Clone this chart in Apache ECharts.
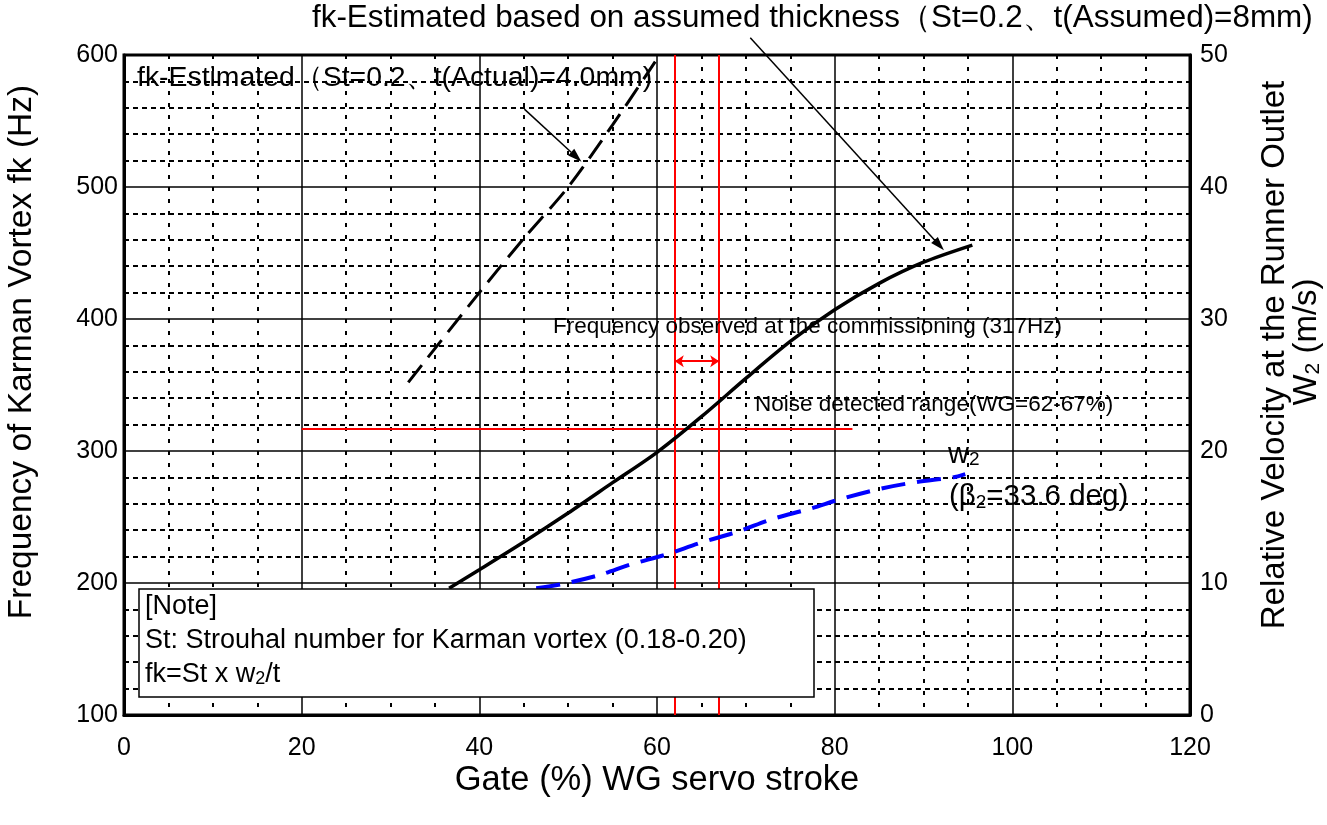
<!DOCTYPE html>
<html><head><meta charset="utf-8">
<script src="https://cdn.jsdelivr.net/npm/echarts@6/dist/echarts.min.js"></script>
<style>html,body{margin:0;padding:0;background:#fff}#c{width:1327px;height:825px}</style>
</head><body><div id="c"></div>
<script>
// ---- data ----
const xTicks = [0, 20, 40, 60, 80, 100, 120];
const yLeftTicks = [100, 200, 300, 400, 500, 600];
const yRightTicks = [0, 10, 20, 30, 40, 50];

const fkActualX = [32, 40, 45, 50, 55, 59.8];
const fkActualY = [352, 420, 461, 500, 547, 595];

const fkAssumedX = [36.6, 40, 45, 50, 55, 60, 65, 70, 75, 80, 85, 90, 95.5];
const fkAssumedY = [196, 210, 231, 253, 276, 299, 326, 355, 383, 407, 427, 443, 456];

const w2X = [46.4, 49.2, 53.5, 57, 61, 64.7, 69.1, 73, 77.1, 80.9, 85.2, 89.2, 93.3, 94.7];
const w2Y = [9.6, 9.9, 10.6, 11.4, 12.15, 13.0, 13.9, 14.85, 15.6, 16.4, 17.15, 17.65, 18.0, 18.25];

const noiseRange = [62, 67];
const observedFreq = 317;
const observedLineX = [20, 82];
const rangeArrowY = 368;
const arrowAssumed = [[70.5, 613], [92.3, 452]];
const arrowActual = [[45.07, 559], [51.5, 519.2]];

// ---- chart ----
const FONT = 'Liberation Sans, Arial, sans-serif';
const zip = (a, b) => a.map((v, i) => [v, b[i]]);
const chart = echarts.init(document.getElementById('c'), null, {renderer: 'canvas'});
const labelStyle = {color: '#000', fontSize: 25, fontFamily: FONT};

chart.setOption({
  animation: false,
  backgroundColor: '#fff',
  grid: {left: 124, right: 137, top: 55, bottom: 110, show: true, borderColor: '#000', borderWidth: 3,
         backgroundColor: 'transparent', containLabel: false, outerBoundsMode: 'none'},
  xAxis: {
    type: 'value', min: xTicks[0], max: xTicks[xTicks.length - 1], interval: xTicks[1] - xTicks[0],
    axisLine: {show: true, onZero: false, lineStyle: {color: '#000', width: 3}},
    axisTick: {show: false},
    axisLabel: Object.assign({margin: 21}, labelStyle),
    splitLine: {show: true, lineStyle: {color: '#000', width: 1.5}},
    minorTick: {show: false, splitNumber: 4},
    minorSplitLine: {show: true, lineStyle: {color: '#000', width: 2, type: [4, 8]}}
  },
  yAxis: [{
    type: 'value', position: 'left', min: yLeftTicks[0], max: yLeftTicks[yLeftTicks.length - 1],
    interval: yLeftTicks[1] - yLeftTicks[0],
    axisLine: {show: true, onZero: false, lineStyle: {color: '#000', width: 3}},
    axisTick: {show: false},
    axisLabel: Object.assign({margin: 6}, labelStyle),
    splitLine: {show: true, lineStyle: {color: '#000', width: 1.5}},
    minorTick: {show: false, splitNumber: 5},
    minorSplitLine: {show: true, lineStyle: {color: '#000', width: 2, type: [5, 4]}}
  }, {
    type: 'value', position: 'right', min: yRightTicks[0], max: yRightTicks[yRightTicks.length - 1],
    interval: yRightTicks[1] - yRightTicks[0],
    axisLine: {show: true, onZero: false, lineStyle: {color: '#000', width: 3}},
    axisTick: {show: false},
    axisLabel: Object.assign({margin: 10}, labelStyle),
    splitLine: {show: false}
  }],
  series: [{
    name: 'fk actual', type: 'line', smooth: 0.3, showSymbol: false, silent: true, z: 5,
    data: zip(fkActualX, fkActualY),
    lineStyle: {color: '#000', width: 3, type: [22, 10]}
  }, {
    name: 'fk assumed', type: 'line', smooth: 0.3, showSymbol: false, silent: true, z: 5,
    data: zip(fkAssumedX, fkAssumedY),
    lineStyle: {color: '#000', width: 3.5}
  }, {
    name: 'w2', type: 'line', yAxisIndex: 1, smooth: 0.3, showSymbol: false, silent: true, z: 5,
    data: zip(w2X, w2Y),
    lineStyle: {color: '#0000ff', width: 4, type: [24, 12]}
  }, {
    name: 'marks', type: 'line', data: [], clip: false, silent: true, z: 4,
    markLine: {
      silent: true, animation: false, symbol: ['none', 'none'],
      label: {show: false},
      lineStyle: {color: '#ff0000', width: 2, type: 'solid'},
      data: [
        {xAxis: noiseRange[0]}, {xAxis: noiseRange[1]},
        [{coord: [observedLineX[0], observedFreq]}, {coord: [observedLineX[1], observedFreq]}],
        [{coord: [noiseRange[0], rangeArrowY], symbol: 'arrow', symbolSize: [9, 9]},
         {coord: [noiseRange[1], rangeArrowY], symbol: 'arrow', symbolSize: [9, 9]}]
      ]
    }
  }]
});

// arrows through the library's scales
function arrowGraphic(d0, d1) {
  const p0 = chart.convertToPixel({gridIndex: 0}, d0);
  const p1 = chart.convertToPixel({gridIndex: 0}, d1);
  const dx = p1[0] - p0[0], dy = p1[1] - p0[1], L = Math.hypot(dx, dy), ux = dx / L, uy = dy / L;
  const hl = 14, hw = 4.5;
  const bx = p1[0] - ux * hl, by = p1[1] - uy * hl;
  return [
    {type: 'line', z: 12, shape: {x1: p0[0], y1: p0[1], x2: bx, y2: by}, style: {stroke: '#000', lineWidth: 1.5}},
    {type: 'polygon', z: 12, shape: {points: [[p1[0], p1[1]], [bx - uy * hw, by + ux * hw], [bx + uy * hw, by - ux * hw]]},
     style: {fill: '#000'}}
  ];
}

const sub = (fs) => ({s: {fontSize: fs, fontFamily: FONT, verticalAlign: 'bottom', lineHeight: fs, fill: '#000'}});
const graphics = [
  {type: 'text', x: 22, y: 352, rotation: Math.PI / 2, z: 10,
   style: {text: 'Frequency of Karman Vortex fk (Hz)', font: '33.5px ' + FONT, fill: '#000', align: 'center', verticalAlign: 'middle'}},
  {type: 'text', x: 657, y: 780, z: 10,
   style: {text: 'Gate (%) WG servo stroke', font: '34.5px ' + FONT, fill: '#000', align: 'center', verticalAlign: 'middle'}},
  {type: 'text', x: 1275, y: 355, rotation: Math.PI / 2, z: 10,
   style: {text: 'Relative Velocity at the Runner Outlet', font: '33px ' + FONT, fill: '#000', align: 'center', verticalAlign: 'middle'}},
  {type: 'text', x: 1307, y: 342, rotation: Math.PI / 2, z: 10,
   style: {text: 'W{s|2} (m/s)', font: '33px ' + FONT, fill: '#000', align: 'center', verticalAlign: 'middle', rich: sub(21)}},
  {type: 'text', x: 312, y: 18, z: 10,
   style: {text: 'fk-Estimated based on assumed thickness（St=0.2、t(Assumed)=8mm)', font: '31.4px ' + FONT, fill: '#000', align: 'left', verticalAlign: 'middle'}},
  {type: 'text', x: 137, y: 78, z: 10,
   style: {text: 'fk-Estimated（St=0.2、t(Actual)=4.0mm)', font: '28.4px ' + FONT, fill: '#000', align: 'left', verticalAlign: 'middle'}},
  {type: 'text', x: 553, y: 327, z: 10,
   style: {text: 'Frequency observed at the commissioning (317Hz)', font: '22.5px ' + FONT, fill: '#000', align: 'left', verticalAlign: 'middle'}},
  {type: 'text', x: 755, y: 405, z: 10,
   style: {text: 'Noise detected range(WG=62-67%)', font: '22.5px ' + FONT, fill: '#000', align: 'left', verticalAlign: 'middle'}},
  {type: 'text', x: 948, y: 455, z: 10,
   style: {text: 'w{s|2}', font: '29px ' + FONT, fill: '#000', align: 'left', verticalAlign: 'middle', rich: sub(19)}},
  {type: 'text', x: 949, y: 497, z: 10,
   style: {text: '(β{s|2}=33.6 deg)', font: '29.5px ' + FONT, fill: '#000', align: 'left', verticalAlign: 'middle', rich: sub(19)}},
  {type: 'rect', z: 20, shape: {x: 139, y: 589, width: 675, height: 108},
   style: {fill: '#fff', stroke: '#000', lineWidth: 1.5}},
  {type: 'text', x: 145, y: 607, z: 21,
   style: {text: '[Note]', font: '27px ' + FONT, fill: '#000', align: 'left', verticalAlign: 'middle'}},
  {type: 'text', x: 145, y: 641, z: 21,
   style: {text: 'St: Strouhal number for Karman vortex (0.18-0.20)', font: '27px ' + FONT, fill: '#000', align: 'left', verticalAlign: 'middle'}},
  {type: 'text', x: 145, y: 675, z: 21,
   style: {text: 'fk=St x w{s|2}/t', font: '27px ' + FONT, fill: '#000', align: 'left', verticalAlign: 'middle', rich: sub(18)}}
].concat(arrowGraphic(arrowAssumed[0], arrowAssumed[1]), arrowGraphic(arrowActual[0], arrowActual[1]));

chart.setOption({graphic: graphics});
</script>
</body></html>
